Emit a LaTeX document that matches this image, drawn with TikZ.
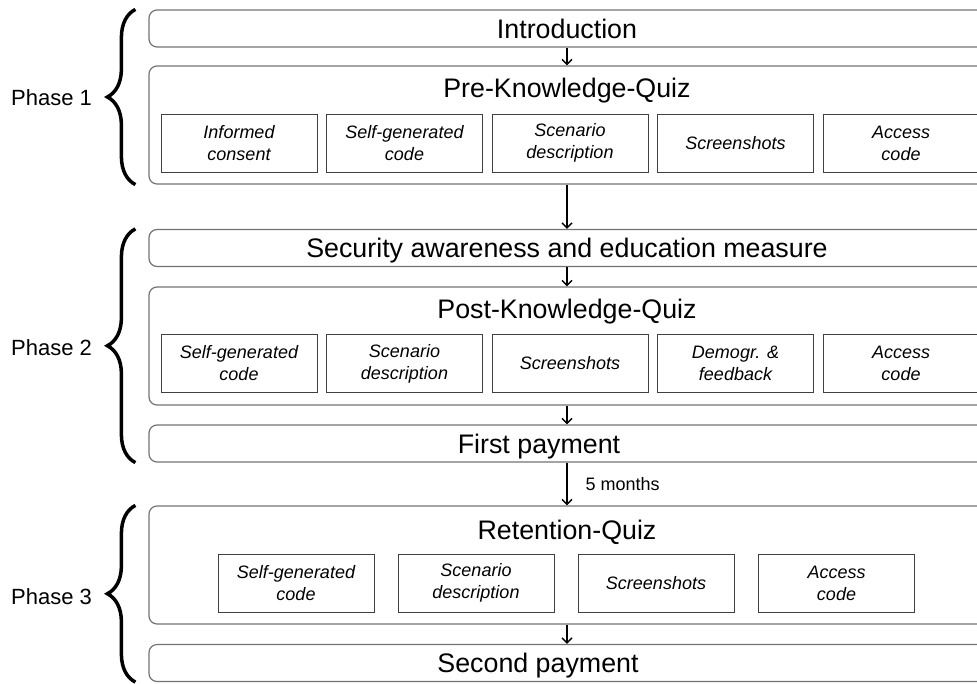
\documentclass[tikz,border=0pt]{standalone}
\usepackage{fontspec}
\setmainfont{Liberation Sans}
\usetikzlibrary{arrows.meta, positioning, decorations.pathreplacing}
\tikzset{
  % --- outer boxes ------------------------------------------
  stage/.style={draw=black!55, line width=1.2pt, rounded corners=8pt,
    minimum width=836pt, minimum height=37pt, inner sep=0pt,
    text height=19pt, text depth=0pt, font=\fontsize{26.8}{28}\selectfont},
  quiz/.style={draw=black!55, line width=1.2pt, rounded corners=8pt,
    minimum width=836pt, minimum height=118pt, inner sep=0pt},
  qtitle/.style={inner sep=0pt, text height=19pt, text depth=0pt,
    font=\fontsize{26.8}{28}\selectfont},
  % --- quiz parts -------------------------------------------
  part/.style={draw=black!75, line width=1pt, minimum width=156pt,
    minimum height=58pt, inner sep=0pt, align=center,
    font=\fontsize{18}{22}\selectfont\itshape},
  phase/.style={anchor=west, inner sep=0pt, font=\fontsize{22}{24}\selectfont},
  flow/.style={-{Straight Barb[length=5pt, width=10pt]}, line width=1.4pt},
  brc/.style={decorate, decoration={brace, amplitude=28pt}, line width=3.5pt},
  lbl/.style={inner sep=0pt, font=\fontsize{18}{20}\selectfont}
}
\begin{document}
\begin{tikzpicture}[x=1pt, y=-1pt]
  \useasboundingbox (0,0) rectangle (977,683);
  \clip (0,0) rectangle (977,683);

  % --- Phase 1 ---
  \node[stage] (intro) at (567,28.5) {Introduction};
  \node[quiz]  (pre)   at (567,125) {};
  \node[qtitle] (preT) at (567,88) {Pre-Knowledge-Quiz};
  \node[part] (pre1) at (239,143)   {Informed\\consent};
  \node[part] (pre2) at (404.5,143) {Self-generated\\code};
  \node[part] (pre3) at (570,143)   {Scenario\\description};
  \node[part] (pre4) at (735.5,143) {Screenshots};
  \node[part] (pre5) at (901,143)   {Access\\code};

  % --- Phase 2 ---
  \node[stage] (sec)  at (567,248) {Security awareness and education measure};
  \node[quiz]  (post) at (567,346) {};
  \node[qtitle] (postT) at (567,309) {Post-Knowledge-Quiz};
  \node[part] (post1) at (239,363.5)   {Self-generated\\code};
  \node[part] (post2) at (404.5,363.5) {Scenario\\description};
  \node[part] (post3) at (570,363.5)   {Screenshots};
  \node[part] (post4) at (735.5,363.5) {Demogr. \&\\feedback};
  \node[part] (post5) at (901,363.5)   {Access\\code};
  \node[stage, label={[qtitle, xshift=-28pt]center:First payment}] (pay1)
    at (567,443.5) {};

  % --- Phase 3 ---
  \node[quiz]  (ret) at (567,565) {};
  \node[qtitle] (retT) at (567,530) {Retention-Quiz};
  \node[part] (ret1) at (296,583)   {Self-generated\\code};
  \node[part] (ret2) at (476,583)   {Scenario\\description};
  \node[part] (ret3) at (656,583)   {Screenshots};
  \node[part] (ret4) at (836.5,583) {Access\\code};
  \node[stage, label={[qtitle, xshift=-29pt]center:Second payment}] (pay2)
    at (567,663) {};

  % --- flow ---
  \draw[flow] (intro) -- (pre);
  \draw[flow] (pre)   -- (sec);
  \draw[flow] (sec)   -- (post);
  \draw[flow] (post)  -- (pay1);
  \draw[flow] (pay1)  -- node[lbl, right=18pt] {5 months} (ret);
  \draw[flow] (ret)   -- (pay2);

  % --- phases ---
  \draw[brc] ([xshift=-13pt]pre.south west)  -- ([xshift=-13pt]intro.north west);
  \draw[brc] ([xshift=-13pt]pay1.south west) -- ([xshift=-13pt]sec.north west);
  \draw[brc] ([xshift=-13pt]pay2.south west) -- ([xshift=-13pt]ret.north west);
  \node[phase] (ph1) at (11,98)  {Phase 1};
  \node[phase] (ph2) at (11,348) {Phase 2};
  \node[phase] (ph3) at (11,597) {Phase 3};
\end{tikzpicture}
\end{document}
